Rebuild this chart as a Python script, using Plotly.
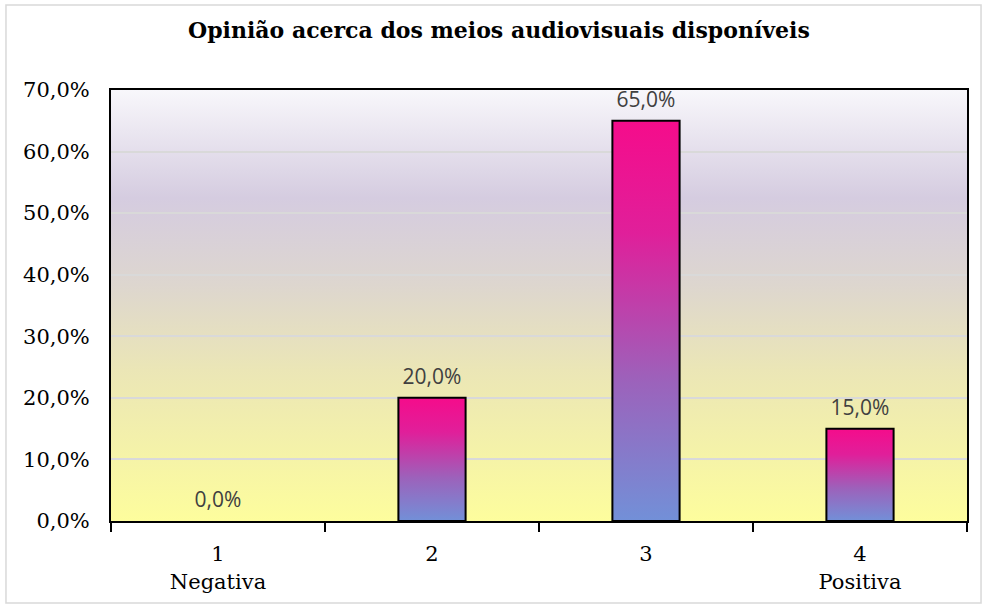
import plotly.graph_objects as go

categorias = [1, 2, 3, 4]
rotulos = ["1<br>Negativa", "2", "3", "4<br>Positiva"]
percentagens = [0.0, 0.20, 0.65, 0.15]

titulo = "Opinião acerca dos meios audiovisuais disponíveis"

# gradiente das barras (0 = base, 1 = topo) e do fundo da área do gráfico
grad_barras = [[0.0, "#7290d8"], [0.35, "#9c62bb"], [0.72, "#e01f9a"], [1.0, "#f50c8b"]]
fundo_svg = (
    "data:image/svg+xml;utf8,"
    "<svg xmlns='http://www.w3.org/2000/svg' width='10' height='100' preserveAspectRatio='none'>"
    "<defs><linearGradient id='g' x1='0' y1='1' x2='0' y2='0'>"
    "<stop offset='0' stop-color='%23fdfd9d'/>"
    "<stop offset='0.35' stop-color='%23ebe6b6'/>"
    "<stop offset='0.55' stop-color='%23ddd6cf'/>"
    "<stop offset='0.75' stop-color='%23d5cce0'/>"
    "<stop offset='1' stop-color='%23f8f7fb'/>"
    "</linearGradient></defs><rect width='10' height='100' fill='url(%23g)'/></svg>"
)

meia_largura = 0.157
serif = "DejaVu Serif"

fig = go.Figure()
for c, v in zip(categorias, percentagens):
    # barra desenhada como polígono para poder ter gradiente vertical
    fig.add_trace(go.Scatter(
        x=[c - meia_largura, c - meia_largura, c + meia_largura, c + meia_largura, c - meia_largura],
        y=[0, v, v, 0, 0],
        mode="lines", fill="toself",
        fillgradient=dict(type="vertical", colorscale=grad_barras, start=0, stop=max(v, 1e-6)),
        line=dict(color="black", width=2 if v > 0 else 0),
        hoverinfo="skip", showlegend=False,
    ))

fig.add_trace(go.Scatter(
    x=categorias, y=percentagens, xaxis="x2",
    mode="markers+text", texttemplate="%{y:.1%}", textposition="top center",
    marker=dict(size=12, color="rgba(0,0,0,0)"), cliponaxis=False,
    textfont=dict(family="Open Sans", size=21, color="#404040"),
    showlegend=False, hoverinfo="skip",
))

fig.update_layout(
    width=986, height=608,
    margin=dict(l=111, r=19, t=90, b=87),
    separators=",.",
    paper_bgcolor="white", plot_bgcolor="rgba(0,0,0,0)",
    title=dict(text="<b>" + titulo + "</b>", x=0.506, xref="container", y=0.95, yanchor="middle",
               font=dict(family=serif, size=22, color="black")),
    xaxis=dict(range=[0.5, 4.5], tickvals=[0.5, 1.5, 2.5, 3.5, 4.5], showticklabels=False,
               ticks="outside", ticklen=9, tickwidth=2, tickcolor="black",
               showline=True, linecolor="black", linewidth=2, mirror=True, showgrid=False,
               zeroline=False),
    xaxis2=dict(range=[0.5, 4.5], overlaying="x", side="bottom", tickvals=categorias, ticktext=rotulos,
                ticks="outside", ticklen=14, tickcolor="rgba(0,0,0,0)", showgrid=False, zeroline=False,
                tickfont=dict(family=serif, size=21, color="black")),
    yaxis=dict(range=[0, 0.7], dtick=0.1, tickformat=".1%", showgrid=True, gridcolor="#d9d9d9",
               gridwidth=2, showline=True, linecolor="black", linewidth=2, mirror=True,
               ticks="outside", ticklen=15, tickcolor="rgba(0,0,0,0)", zeroline=False,
               tickfont=dict(family=serif, size=21, color="black")),
    images=[dict(source=fundo_svg, xref="paper", yref="paper", x=0, y=1, sizex=1, sizey=1,
                 xanchor="left", yanchor="top", sizing="stretch", layer="below")],
    shapes=[dict(type="rect", xref="paper", yref="paper", x0=-0.1227, x1=1.0164, y0=-0.19, y1=1.197,
                 line=dict(color="#d9d9d9", width=1.5), layer="below")],
)

fig.write_html("out.html", config={"displayModeBar": False},
               post_script="document.body.style.margin='0';")
